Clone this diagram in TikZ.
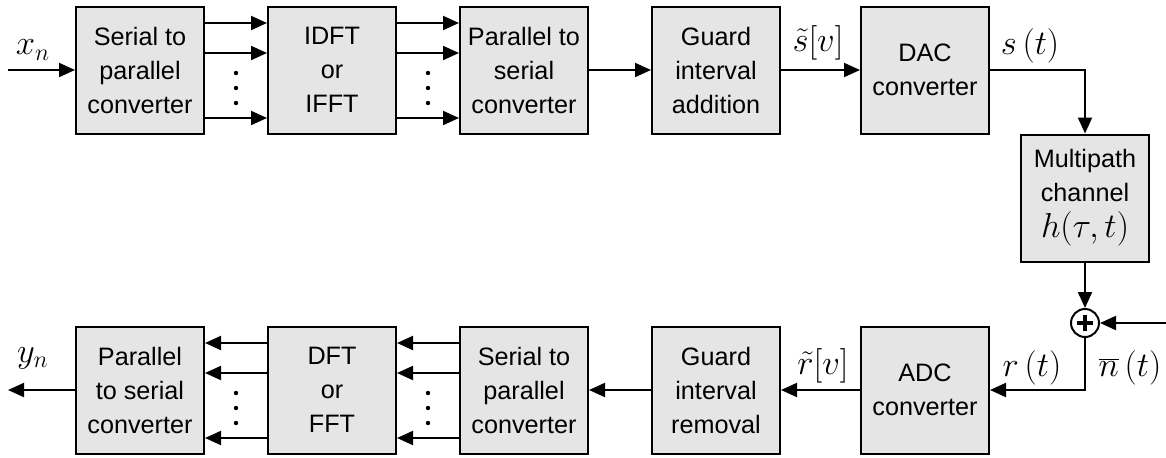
\documentclass[tikz,border=0pt]{standalone}
\usepackage{fontspec}
\setmainfont{Liberation Sans}
\usetikzlibrary{arrows.meta, positioning, calc}

\tikzset{
  block/.style={draw, line width=1pt, fill=gray!20, minimum width=64pt, minimum height=63.5pt,
    align=center, inner sep=2pt, font=\fontsize{12.6}{17}\selectfont},
  sig/.style={line width=1pt, -{Triangle[length=8pt,width=7pt]}},
  lbl/.style={font=\fontsize{17}{20}\selectfont},
}

\begin{document}
\begin{tikzpicture}[x=0.5pt,y=-0.5pt]
  \useasboundingbox (0,0) rectangle (1166,457);

  % Transmitter chain
  \node[block] (sp1) at (140,70) {Serial to\\parallel\\converter};
  \node[block] (idft) at (332,70) {IDFT\\or\\IFFT};
  \node[block] (ps1) at (524,70) {Parallel to\\serial\\converter};
  \node[block] (gia) at (716,70) {Guard\\interval\\addition};
  \node[block] (dac) at (925,70) {DAC\\converter};

  % Channel
  \node[block] (mp) at (1085,198) {Multipath\\channel\\[1pt]{\fontsize{18.5}{20}\selectfont$h(\tau,t)$}};
  \node[circle, draw, line width=1pt, minimum size=14pt, inner sep=0pt] (sum) at (1085,323) {};
  \draw[line width=1.8pt] ([xshift=-4.2pt]sum.center) -- ([xshift=4.2pt]sum.center);
  \draw[line width=1.8pt] ([yshift=-4.2pt]sum.center) -- ([yshift=4.2pt]sum.center);
  \coordinate (nin) at (1166,323);

  % Receiver chain
  \node[block] (adc) at (925,390) {ADC\\converter};
  \node[block] (gir) at (716,390) {Guard\\interval\\removal};
  \node[block] (sp2) at (524,390) {Serial to\\parallel\\converter};
  \node[block] (dft) at (332,390) {DFT\\or\\FFT};
  \node[block] (ps2) at (140,390) {Parallel\\to serial\\converter};

  % Input / output
  \coordinate (xin) at (8,70);
  \coordinate (yout) at (8,390);
  \draw[sig] (xin) -- (sp1.west);
  \draw[sig] (ps2.west) -- (yout);
  \node[lbl] at (33,50) {$x_n$};
  \node[lbl] at (33,358) {$y_n$};

  % Parallel branches
  \foreach \dy in {23.5pt, 8.5pt, -24pt} {
    \draw[sig] ([yshift=\dy]sp1.east) -- ([yshift=\dy]idft.west);
    \draw[sig] ([yshift=\dy]idft.east) -- ([yshift=\dy]ps1.west);
    \draw[sig] ([yshift=\dy]sp2.west) -- ([yshift=\dy]dft.east);
    \draw[sig] ([yshift=\dy]dft.west) -- ([yshift=\dy]ps2.east);
  }
  \foreach \a/\b in {sp1/idft, idft/ps1, ps2/dft, dft/sp2}
    \foreach \dy in {-1.5pt, -9pt, -16.5pt}
      \fill ([yshift=\dy]$(\a.east)!0.5!(\b.west)$) circle (1.1pt);

  % Serial links
  \draw[sig] (ps1) -- (gia);
  \draw[sig] (gia) -- (dac);
  \draw[sig] (dac.east) -| (mp.north);
  \draw[sig] (mp) -- (sum);
  \draw[sig] (nin) -- (sum);
  \draw[sig] (sum.south) |- (adc.east);
  \draw[sig] (adc) -- (gir);
  \draw[sig] (gir) -- (sp2);

  % Signal labels
  \node[lbl] at (818,43) {$\tilde{s}[v]$};
  \node[lbl] at (1030,46) {$s\,(t)$};
  \node[lbl] at (823,366) {$\tilde{r}[v]$};
  \node[lbl] at (1032,368) {$r\,(t)$};
  \node[lbl] at (1130,368) {$\overline{n}\,(t)$};
\end{tikzpicture}
\end{document}
